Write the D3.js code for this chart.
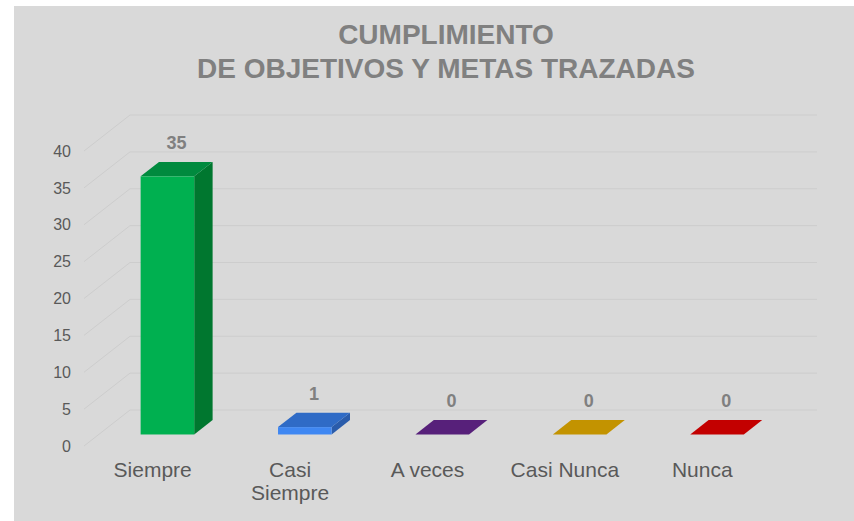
<!DOCTYPE html>
<html>
<head>
<meta charset="utf-8">
<script src="https://cdn.jsdelivr.net/npm/d3@7"></script>
<style>
  html, body { margin: 0; padding: 0; background: #ffffff; }
  svg { display: block; font-family: "Liberation Sans", Arial, sans-serif; }
</style>
</head>
<body>
<script>
// data
const categories = ["Siempre", "Casi Siempre", "A veces", "Casi Nunca", "Nunca"];
const values = [35, 1, 0, 0, 0];
const yTicks = [0, 5, 10, 15, 20, 25, 30, 35, 40];
const titleLines = ["CUMPLIMIENTO", "DE OBJETIVOS Y METAS TRAZADAS"];

// front, top, side colours per bar
const frontColors = ["#00b050", "#3f87f2", "#5c2480", "#c89800", "#c80000"];
const topColors = ["#008a3e", "#2f6bc6", "#57207a", "#c39300", "#c30000"];
const sideColors = ["#00772f", "#2a5cab", "#4a1b68", "#a87e00", "#a00000"];

const W = 854, H = 521;
const depth = { dx: 46, dy: -36 };       // full depth of the floor
const barDepth = { from: 0.32, to: 0.72 }; // where the bars sit in depth

const svg = d3.select("body").append("svg").attr("width", W).attr("height", H);

// chart area background
svg.append("rect")
  .attr("x", 14).attr("y", 6)
  .attr("width", W - 14).attr("height", H - 6)
  .attr("fill", "#d9d9d9");

const x = d3.scaleBand().domain(categories).range([84, 771]).paddingInner(0);
const y = d3.scaleLinear().domain([0, 40]).range([446, 151]);

const grid_g = svg.append("g").classed("grid", true);

// back wall lines
grid_g.selectAll("line.back")
  .data(yTicks)
  .join("line")
  .classed("back", true)
  .attr("x1", x.range()[0] + depth.dx)
  .attr("x2", x.range()[1] + depth.dx)
  .attr("y1", (d) => y(d) + depth.dy)
  .attr("y2", (d) => y(d) + depth.dy)
  .attr("stroke", "#cdcdcd")
  .attr("stroke-width", 1);

// left wall diagonals
grid_g.selectAll("line.side")
  .data(yTicks)
  .join("line")
  .classed("side", true)
  .attr("x1", x.range()[0])
  .attr("x2", x.range()[0] + depth.dx)
  .attr("y1", (d) => y(d))
  .attr("y2", (d) => y(d) + depth.dy)
  .attr("stroke", "#cdcdcd")
  .attr("stroke-width", 1);

// y axis labels
const y_axis_g = svg.append("g")
  .attr("transform", `translate(${x.range()[0]},0)`)
  .call(d3.axisLeft(y).tickValues(yTicks).tickSize(0).tickPadding(13));
y_axis_g.select(".domain").remove();
y_axis_g.selectAll("text")
  .attr("font-size", 16)
  .attr("font-family", "Liberation Sans, Arial, sans-serif")
  .attr("fill", "#595959");

// bars
const bw = x.bandwidth() * 0.39;
const bars = categories.map((c, i) => {
  const x0 = x(c) + (x.bandwidth() - bw) / 2;
  const fx = barDepth.from * depth.dx, fy = barDepth.from * depth.dy;
  const bx = (barDepth.to - barDepth.from) * depth.dx;
  const by = (barDepth.to - barDepth.from) * depth.dy;
  const left = x0 + fx, right = x0 + bw + fx;
  const bottom = y(0) + fy, top = y(values[i]) + fy;
  return { i, left, right, bottom, top, bx, by };
});

const bars_g = svg.append("g").classed("bars", true);
const bar = bars_g.selectAll("g.bar").data(bars).join("g").classed("bar", true);

bar.append("path")
  .attr("d", (d) => `M${d.right},${d.bottom}L${d.right + d.bx},${d.bottom + d.by}L${d.right + d.bx},${d.top + d.by}L${d.right},${d.top}Z`)
  .attr("fill", (d) => sideColors[d.i]);
bar.append("path")
  .attr("d", (d) => `M${d.left},${d.top}L${d.right},${d.top}L${d.right + d.bx},${d.top + d.by}L${d.left + d.bx},${d.top + d.by}Z`)
  .attr("fill", (d) => topColors[d.i]);
bar.append("rect")
  .attr("x", (d) => d.left)
  .attr("y", (d) => d.top)
  .attr("width", (d) => d.right - d.left)
  .attr("height", (d) => d.bottom - d.top)
  .attr("fill", (d) => frontColors[d.i]);

// value labels
bar.append("text")
  .attr("x", (d) => (d.left + d.right + d.bx) / 2)
  .attr("y", (d) => d.top + d.by - 13)
  .attr("text-anchor", "middle")
  .attr("font-size", 18)
  .attr("font-weight", "bold")
  .attr("fill", "#808080")
  .text((d) => values[d.i]);

// category labels, wrapped when too wide
const cat_g = svg.append("g").classed("categories", true);
categories.forEach((c) => {
  const t = cat_g.append("text")
    .attr("x", x(c) + x.bandwidth() / 2)
    .attr("y", 477)
    .attr("text-anchor", "middle")
    .attr("font-size", 21)
    .attr("fill", "#595959")
    .text(c);
  if (t.node().getComputedTextLength() > 120) {
    const words = c.split(" ");
    t.text(null);
    words.forEach((w, k) => {
      t.append("tspan")
        .attr("x", x(c) + x.bandwidth() / 2)
        .attr("dy", k === 0 ? 0 : 23)
        .text(w);
    });
  }
});

// title
svg.append("g").classed("title", true)
  .selectAll("text")
  .data(titleLines)
  .join("text")
  .attr("x", 446)
  .attr("y", (d, i) => 44 + i * 33.5)
  .attr("text-anchor", "middle")
  .attr("font-size", 28)
  .attr("font-weight", "bold")
  .attr("fill", "#808080")
  .text((d) => d);
</script>
</body>
</html>
